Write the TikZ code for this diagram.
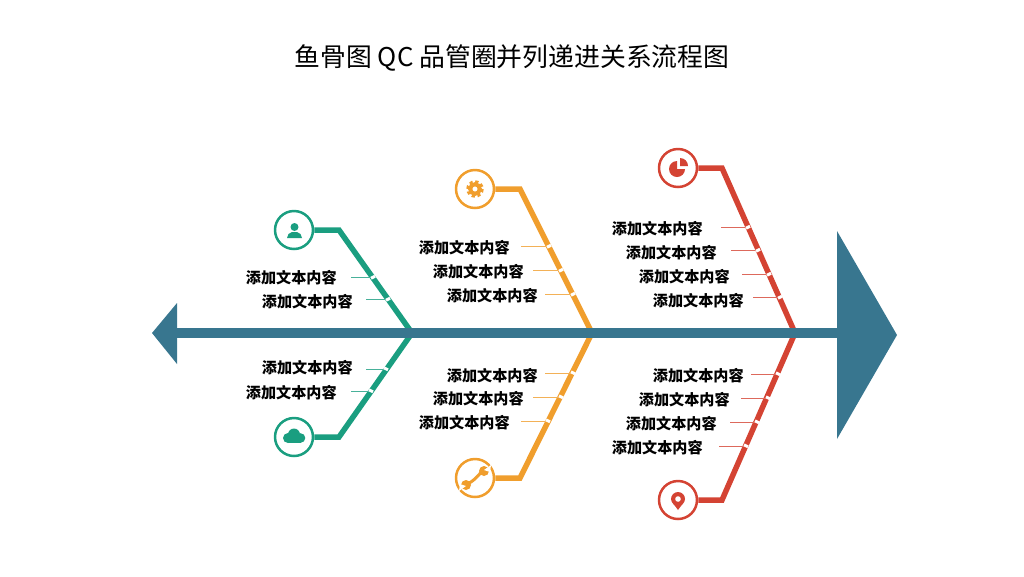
\documentclass[tikz,border=0pt]{standalone}
\usepackage{fontspec}
\setmainfont{Noto Sans CJK SC}
\definecolor{spineBlue}{HTML}{38768F}
\definecolor{fishGreen}{HTML}{1A9E80}
\definecolor{fishOrange}{HTML}{F09E2D}
\definecolor{fishRed}{HTML}{D44333}
\tikzset{
  branch/.style={line width=0.11cm, line join=miter},
  tickline/.style={line width=0.5pt},
  gapmark/.style={white, line width=0.06cm},
  iconring/.style={circle, draw, fill=white, line width=0.05cm, minimum size=0.76cm, inner sep=0pt},
  lbl/.style={anchor=east, font=\bfseries\fontsize{8.6pt}{10pt}\selectfont, inner sep=0pt, text=black}
}
\begin{document}
\begin{tikzpicture}[x=0.02cm, y=-0.02cm]
  \useasboundingbox (0,0) rectangle (1024,576);

  % --- 1. title ---
  \node[font=\fontsize{14.7pt}{18pt}\selectfont, text=black] (title) at (512,58) {鱼骨图 QC 品管圈并列递进关系流程图};

  % --- 2. icon rings ---
  \node[iconring, draw=fishGreen]  (ringGA) at (294,230) {};
  \node[iconring, draw=fishGreen]  (ringGB) at (294,437) {};
  \node[iconring, draw=fishOrange] (ringOA) at (475,189) {};
  \node[iconring, draw=fishOrange] (ringOB) at (475,478) {};
  \node[iconring, draw=fishRed]    (ringRA) at (678,168) {};
  \node[iconring, draw=fishRed]    (ringRB) at (678,500) {};

  % --- 3. branches ---
  \coordinate (jointGA) at (412,333);
  \coordinate (jointGB) at (412,333);
  \coordinate (jointOA) at (592,333);
  \coordinate (jointOB) at (592,333);
  \coordinate (jointRA) at (795,333);
  \coordinate (jointRB) at (795,333);
  \coordinate (bendGA) at (339,230);
  \coordinate (bendGB) at (339,437);
  \coordinate (bendOA) at (520,189);
  \coordinate (bendOB) at (520,478);
  \coordinate (bendRA) at (722,168);
  \coordinate (bendRB) at (722,500);
  \draw[branch, fishGreen]  (ringGA) -- (bendGA) -- (jointGA);
  \draw[branch, fishGreen]  (ringGB) -- (bendGB) -- (jointGB);
  \draw[branch, fishOrange] (ringOA) -- (bendOA) -- (jointOA);
  \draw[branch, fishOrange] (ringOB) -- (bendOB) -- (jointOB);
  \draw[branch, fishRed]    (ringRA) -- (bendRA) -- (jointRA);
  \draw[branch, fishRed]    (ringRB) -- (bendRB) -- (jointRB);

  % --- 4. spine, tail and head ---
  \coordinate (tailEnd) at (170,333);
  \coordinate (headEnd) at (840,333);
  \draw[spineBlue, line width=0.2cm] (tailEnd) -- (headEnd);
  \fill[spineBlue] (177,303) -- (152,333) -- (177,364) -- cycle;
  \fill[spineBlue] (837,231) -- (897,335) -- (837,439) -- cycle;

  % --- 5. green labels ---
  \node[lbl] (lblGA) at (337,278) {添加文本内容};
  \node[lbl] (lblGB) at (353,302) {添加文本内容};
  \node[lbl] (lblGC) at (353,368) {添加文本内容};
  \node[lbl] (lblGD) at (337,393) {添加文本内容};
  \coordinate (tickGA) at (373,277);
  \coordinate (tickGB) at (388,299);
  \coordinate (tickGC) at (386,369);
  \coordinate (tickGD) at (371,391);
  \draw[tickline, fishGreen!80] ([xshift=0.28cm]lblGA.east |- tickGA) -- (tickGA);
  \draw[tickline, fishGreen!80] ([xshift=0.26cm]lblGB.east |- tickGB) -- (tickGB);
  \draw[tickline, fishGreen!80] ([xshift=0.26cm]lblGC.east |- tickGC) -- (tickGC);
  \draw[tickline, fishGreen!80] ([xshift=0.28cm]lblGD.east |- tickGD) -- (tickGD);
  \draw[gapmark] (tickGA) ++(-2,1.2) -- ++(4,-2);
  \draw[gapmark] (tickGB) ++(-2,1.2) -- ++(4,-2);
  \draw[gapmark] (tickGC) ++(-2,-1.2) -- ++(4,2);
  \draw[gapmark] (tickGD) ++(-2,-1.2) -- ++(4,2);

  % --- 6. orange labels ---
  \node[lbl] (lblOA) at (510,248) {添加文本内容};
  \node[lbl] (lblOB) at (524,272) {添加文本内容};
  \node[lbl] (lblOC) at (538,296) {添加文本内容};
  \node[lbl] (lblOD) at (538,376) {添加文本内容};
  \node[lbl] (lblOE) at (524,399) {添加文本内容};
  \node[lbl] (lblOF) at (510,423) {添加文本内容};
  \coordinate (tickOA) at (549,246);
  \coordinate (tickOB) at (561,270);
  \coordinate (tickOC) at (573,294);
  \coordinate (tickOD) at (573,373);
  \coordinate (tickOE) at (561,397);
  \coordinate (tickOF) at (548,421);
  \draw[tickline, fishOrange!80] ([xshift=0.22cm]lblOA.east |- tickOA) -- (tickOA);
  \draw[tickline, fishOrange!80] ([xshift=0.18cm]lblOB.east |- tickOB) -- (tickOB);
  \draw[tickline, fishOrange!80] ([xshift=0.14cm]lblOC.east |- tickOC) -- (tickOC);
  \draw[tickline, fishOrange!80] ([xshift=0.14cm]lblOD.east |- tickOD) -- (tickOD);
  \draw[tickline, fishOrange!80] ([xshift=0.18cm]lblOE.east |- tickOE) -- (tickOE);
  \draw[tickline, fishOrange!80] ([xshift=0.22cm]lblOF.east |- tickOF) -- (tickOF);
  \draw[gapmark] (tickOA) ++(-2,1.2) -- ++(4,-2);
  \draw[gapmark] (tickOB) ++(-2,1.2) -- ++(4,-2);
  \draw[gapmark] (tickOC) ++(-2,1.2) -- ++(4,-2);
  \draw[gapmark] (tickOD) ++(-2,-1.2) -- ++(4,2);
  \draw[gapmark] (tickOE) ++(-2,-1.2) -- ++(4,2);
  \draw[gapmark] (tickOF) ++(-2,-1.2) -- ++(4,2);

  % --- 7. red labels ---
  \node[lbl] (lblRA) at (703,229) {添加文本内容};
  \node[lbl] (lblRB) at (717,253) {添加文本内容};
  \node[lbl] (lblRC) at (730,277) {添加文本内容};
  \node[lbl] (lblRD) at (744,301) {添加文本内容};
  \node[lbl] (lblRE) at (744,376) {添加文本内容};
  \node[lbl] (lblRF) at (730,400) {添加文本内容};
  \node[lbl] (lblRG) at (717,424) {添加文本内容};
  \node[lbl] (lblRH) at (703,448) {添加文本内容};
  \coordinate (tickRA) at (748,227);
  \coordinate (tickRB) at (758,250);
  \coordinate (tickRC) at (769,274);
  \coordinate (tickRD) at (780,297);
  \coordinate (tickRE) at (778,374);
  \coordinate (tickRF) at (768,398);
  \coordinate (tickRG) at (757,422);
  \coordinate (tickRH) at (746,446);
  \draw[tickline, fishRed!80] ([xshift=0.36cm]lblRA.east |- tickRA) -- (tickRA);
  \draw[tickline, fishRed!80] ([xshift=0.28cm]lblRB.east |- tickRB) -- (tickRB);
  \draw[tickline, fishRed!80] ([xshift=0.24cm]lblRC.east |- tickRC) -- (tickRC);
  \draw[tickline, fishRed!80] ([xshift=0.18cm]lblRD.east |- tickRD) -- (tickRD);
  \draw[tickline, fishRed!80] ([xshift=0.14cm]lblRE.east |- tickRE) -- (tickRE);
  \draw[tickline, fishRed!80] ([xshift=0.22cm]lblRF.east |- tickRF) -- (tickRF);
  \draw[tickline, fishRed!80] ([xshift=0.26cm]lblRG.east |- tickRG) -- (tickRG);
  \draw[tickline, fishRed!80] ([xshift=0.32cm]lblRH.east |- tickRH) -- (tickRH);
  \draw[gapmark] (tickRA) ++(-2,1.2) -- ++(4,-2);
  \draw[gapmark] (tickRB) ++(-2,1.2) -- ++(4,-2);
  \draw[gapmark] (tickRC) ++(-2,1.2) -- ++(4,-2);
  \draw[gapmark] (tickRD) ++(-2,1.2) -- ++(4,-2);
  \draw[gapmark] (tickRE) ++(-2,-1.2) -- ++(4,2);
  \draw[gapmark] (tickRF) ++(-2,-1.2) -- ++(4,2);
  \draw[gapmark] (tickRG) ++(-2,-1.2) -- ++(4,2);
  \draw[gapmark] (tickRH) ++(-2,-1.2) -- ++(4,2);

  % --- 8. icons ---
  % person
  \fill[fishGreen] (294.5,227) circle (4);
  \fill[fishGreen] (287,238) -- (288.5,234) -- (292,232) -- (297,232) -- (300.5,234) -- (302,238) -- cycle;
  % cloud
  \fill[fishGreen] (288,438) circle (5);
  \fill[fishGreen] (294,434.5) circle (6);
  \fill[fishGreen] (300.5,438) circle (4.8);
  \fill[fishGreen] (288,438) rectangle (300.5,442.8);
  % gear
  \draw[fishOrange, line width=0.08cm] (475,189) circle (4.8);
  \draw[fishOrange, line width=0.05cm, dash pattern=on 0.065cm off 0.0528cm] (475,189) circle (7.5);
  % wrench
  \draw[fishOrange, line width=0.06cm] (466,484) .. controls (472,483) and (478,476) .. (483,470);
  \fill[fishOrange] (484,471) circle (5);
  \fill[fishOrange] (466,485) circle (5);
  \fill[white] (484,470) -- (491,465) -- (490,472) -- cycle;
  \fill[white] (466,486) -- (459,491) -- (460,484) -- cycle;
  % pie
  \fill[fishRed] (677,169) -- (677,161) arc[start angle=-90, end angle=-360, radius=8] -- cycle;
  \fill[fishRed] (680,166) -- (680,158) arc[start angle=-90, end angle=0, radius=8] -- cycle;
  % pin
  \fill[fishRed] (678,510) .. controls (675,505) and (671,503) .. (671,499) arc[start angle=180, end angle=360, radius=7] .. controls (685,503) and (681,505) .. (678,510) -- cycle;
  \fill[white] (678,499) circle (2.8);

\end{tikzpicture}
\end{document}
